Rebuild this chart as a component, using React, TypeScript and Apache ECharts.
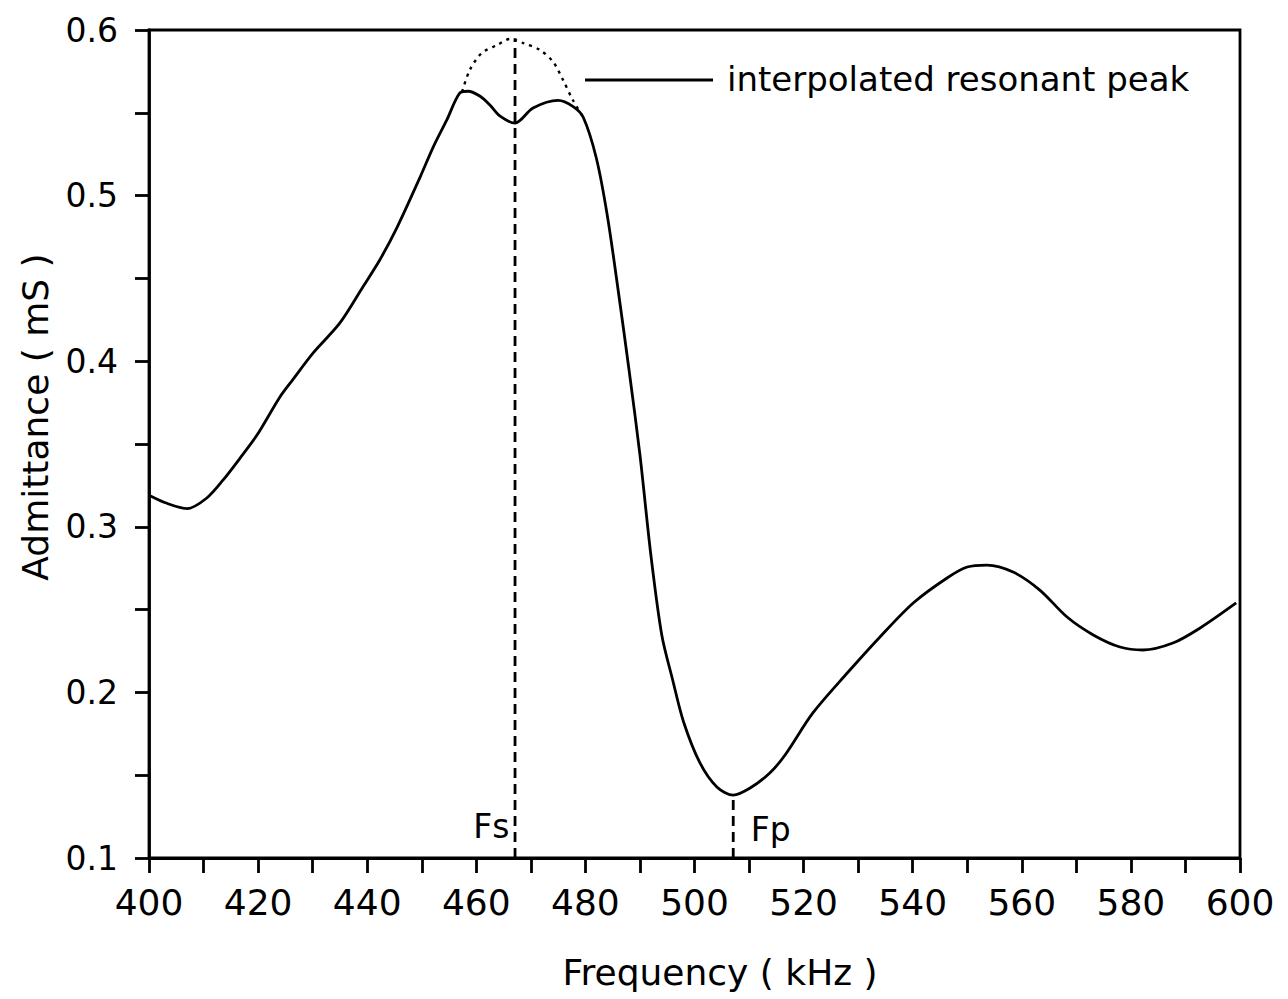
import React, { useEffect, useRef } from "react";
import * as echarts from "echarts";

// Measured admittance curve (kHz, mS)
const freq = [
  400, 403, 407, 410.6, 413.6, 416.7, 419.8, 424, 426.4, 430.1,
  435, 439.2, 442.3, 445.5, 449.7, 452.1, 454.6, 457, 458.5, 460.7,
  462.5, 464.3, 467.1, 470.4, 475, 477.7, 479.6, 482, 484, 486,
  488, 490, 492, 494, 496, 498, 501, 504.1, 507.1, 510.2,
  513.8, 516.6, 521.7, 528, 534, 540.1, 546.3, 550, 553.6, 558.4,
  563.3, 568.3, 573.1, 578, 582.2, 587.7, 592.7, 599.3,
];
const admittance = [
  0.319, 0.3145, 0.311, 0.3174, 0.3283, 0.3415, 0.3554, 0.3784, 0.389, 0.405,
  0.4231, 0.4448, 0.4611, 0.481, 0.5112, 0.5293, 0.5457, 0.562, 0.563, 0.56,
  0.5547, 0.5481, 0.5438, 0.5529, 0.5575, 0.5539, 0.5473, 0.5227, 0.4883, 0.443,
  0.3947, 0.3434, 0.283, 0.2347, 0.2075, 0.1821, 0.1574, 0.1429, 0.138, 0.1423,
  0.1513, 0.1622, 0.1876, 0.2117, 0.2335, 0.254, 0.2691, 0.2757, 0.2769, 0.2727,
  0.2618, 0.2455, 0.2347, 0.2274, 0.2256, 0.2298, 0.2389, 0.254,
];

// Interpolated resonant peak (dotted)
const interpFreq = [457.4, 458.8, 461, 463.8, 466.2, 468.6, 471.7, 474.1, 475.9, 477.7, 479.6];
const interpAdm = [0.5626, 0.5758, 0.5861, 0.5909, 0.5946, 0.5921, 0.5879, 0.5807, 0.5698, 0.5577, 0.5473];

// Marker lines
const fsFreq = 467.1;
const fsTop = 0.595;
const fpFreq = 507.1;
const fpTop = 0.138;
const axisBase = 0.1;
const fsLabelY = 0.119;
const fpLabelY = 0.117;

const xTicks = { min: 400, max: 600, step: 10, labelStep: 20 };
const yTicks = { min: 0.1, max: 0.6, step: 0.05 };

const FONT = '"DejaVu Sans", "Liberation Sans", sans-serif';

export default function App() {
  const ref = useRef<HTMLDivElement>(null);

  useEffect(() => {
    if (!ref.current) return;
    const chart = echarts.init(ref.current, null, { renderer: "svg" });
    const mainData = freq.map((f, i) => [f, admittance[i]]);
    const interpData = interpFreq.map((f, i) => [f, interpAdm[i]]);

    const labelStyle = { color: "#000", fontSize: 33, fontFamily: FONT, opacity: 1 };

    chart.setOption({
      animation: false,
      backgroundColor: "#fff",
      grid: {
        left: 149,
        right: 48,
        top: 30,
        bottom: 141,
        show: true,
        borderColor: "#000",
        borderWidth: 2.8,
        backgroundColor: "transparent",
      },
      xAxis: {
        type: "value",
        min: xTicks.min,
        max: xTicks.max,
        interval: xTicks.step,
        axisLine: { show: true, lineStyle: { color: "#000", width: 2.8 } },
        axisTick: { show: true, length: 15, lineStyle: { color: "#000", width: 2.8 } },
        splitLine: { show: false },
        axisLabel: {
          color: "#000",
          fontSize: 36,
          fontFamily: FONT,
          margin: 26,
          formatter: (v: number) => (Math.round(v) % xTicks.labelStep === 0 ? String(Math.round(v)) : ""),
        },
      },
      yAxis: {
        type: "value",
        min: yTicks.min,
        max: yTicks.max,
        interval: yTicks.step,
        axisLine: { show: true, lineStyle: { color: "#000", width: 2.8 } },
        axisTick: { show: true, length: 14, lineStyle: { color: "#000", width: 2.8 } },
        splitLine: { show: false },
        axisLabel: {
          color: "#000",
          fontSize: 33,
          fontFamily: FONT,
          margin: 31,
          formatter: (v: number) => (Math.round(v * 100) % 10 === 0 ? v.toFixed(1) : ""),
        },
      },
      series: [
        {
          type: "line",
          data: mainData,
          smooth: 0.3,
          symbol: "none",
          lineStyle: { color: "#000", width: 2.8 },
          z: 5,
        },
        {
          type: "line",
          data: interpData,
          smooth: 0.3,
          symbol: "none",
          lineStyle: { color: "#000", width: 2.4, type: [3, 5] },
          z: 4,
        },
        {
          type: "line",
          data: [
            [fsFreq, axisBase],
            [fsFreq, fsTop],
          ],
          symbol: "none",
          lineStyle: { color: "#000", width: 2.8, type: [10, 6] },
        },
        {
          type: "line",
          data: [
            [fpFreq, axisBase],
            [fpFreq, fpTop],
          ],
          symbol: "none",
          lineStyle: { color: "#000", width: 2.8, type: [10, 6] },
        },
        {
          type: "scatter",
          symbolSize: 1,
          silent: true,
          itemStyle: { opacity: 1, color: "transparent" },
          data: [
            {
              value: [fsFreq, fsLabelY],
              label: { show: true, position: "left", distance: 5, formatter: "Fs", ...labelStyle },
            },
            {
              value: [fpFreq, fpLabelY],
              label: { show: true, position: "right", distance: 17, formatter: "Fp", ...labelStyle },
            },
          ],
          label: labelStyle,
        },
      ],
      graphic: [
        {
          type: "line",
          shape: { x1: 585, y1: 80, x2: 713, y2: 80 },
          style: { stroke: "#000", lineWidth: 2.8 },
        },
        {
          type: "text",
          x: 727,
          y: 79,
          style: {
            text: "interpolated resonant peak",
            fill: "#000",
            font: `34px ${FONT}`,
            textAlign: "left",
            textVerticalAlign: "middle",
            align: "left",
            verticalAlign: "middle",
          },
        },
        {
          type: "text",
          x: 720,
          y: 972,
          style: {
            text: "Frequency ( kHz )",
            fill: "#000",
            font: `36px ${FONT}`,
            textAlign: "center",
            textVerticalAlign: "middle",
            align: "center",
            verticalAlign: "middle",
          },
        },
        {
          type: "text",
          x: 35,
          y: 417,
          rotation: Math.PI / 2,
          style: {
            text: "Admittance ( mS )",
            fill: "#000",
            font: `36px ${FONT}`,
            textAlign: "center",
            textVerticalAlign: "middle",
            align: "center",
            verticalAlign: "middle",
          },
        },
      ],
    });

    return () => chart.dispose();
  }, []);

  return (
    <div
      ref={ref}
      style={{ position: "absolute", left: 0, top: 0, width: 1288, height: 999, background: "#fff" }}
    />
  );
}
